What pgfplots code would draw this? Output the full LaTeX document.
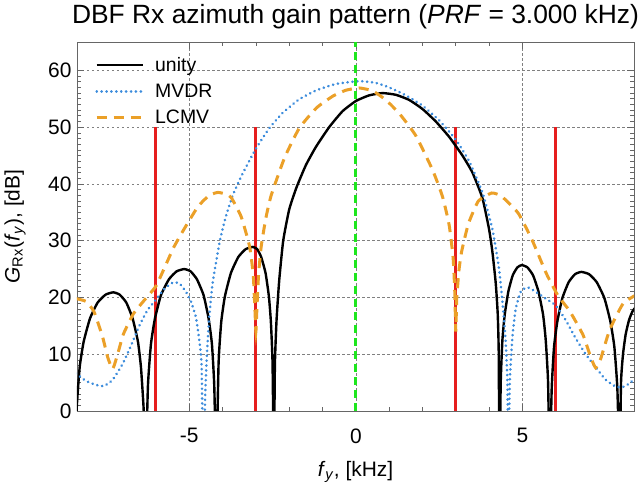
\documentclass[border=0pt]{standalone}
\usepackage{pgfplots}
\pgfplotsset{compat=1.18}
\usepackage{fontspec}
\setmainfont{Liberation Sans}
\definecolor{mvdr}{RGB}{60,140,220}
\definecolor{lcmv}{RGB}{235,160,40}
\definecolor{redl}{RGB}{230,30,30}
\definecolor{greenl}{RGB}{30,230,30}
\begin{document}
\begin{tikzpicture}
\begin{axis}[
  scale only axis, width=557bp, height=369bp,
  xmin=-8.37, xmax=8.35, ymin=0, ymax=65,
  xtick={-5,0,5}, ytick={0,10,...,60},
  minor x tick num=4, minor y tick num=9,
  tick align=inside, major tick length=7bp, minor tick length=4bp,
  xmajorgrids, ymajorgrids,
  grid style={gray, line width=0.6bp, dash pattern=on 2.5bp off 2.5bp},
  axis line style={gray!80!black, line width=0.8bp},
  tick style={gray!80!black, line width=0.6bp},
  ticklabel style={font=\fontsize{21}{25}\selectfont},
  xticklabel style={yshift=-14bp},
  yticklabel style={xshift=-2bp},
  /pgf/number format/assume math mode=true,
  xlabel={\textit{f}\textsubscript{\textit{y}}, [kHz]},
  ylabel={\textit{G}\textsubscript{Rx}(\textit{f}\textsubscript{\textit{y}}), [dB]},
  label style={font=\fontsize{21}{25}\selectfont},
  xlabel style={at={(axis description cs:0.5,0)}, anchor=center, yshift=-61bp},
  ylabel style={at={(axis description cs:0,0.5)}, anchor=center, yshift=62bp},
  title={DBF Rx azimuth gain pattern (\textit{PRF} = 3.000 kHz)},
  title style={font=\fontsize{26.5}{31}\selectfont, at={(axis description cs:0.5,1)}, anchor=center, yshift=19bp},
  legend style={at={(rel axis cs:0,1)}, anchor=north west, xshift=16bp, yshift=-11bp, draw=none, fill=none,
    font=\fontsize{19.5}{23}\selectfont, row sep=7bp, column sep=9bp, inner sep=2bp},
  legend cell align=left,
  legend image code/.code={\draw[#1] (0bp,0bp) -- (46bp,0bp);},
  clip=true,
]
\addplot[redl, line width=3bp, forget plot] coordinates {(-6,0) (-6,50)};
\addplot[redl, line width=3bp, forget plot] coordinates {(-3,0) (-3,50)};
\addplot[redl, line width=3bp, forget plot] coordinates {(3,0) (3,50)};
\addplot[redl, line width=3bp, forget plot] coordinates {(6,0) (6,50)};
\addplot[black, line width=2.4bp, smooth, tension=0.3] coordinates {
(-8.45,-10) (-8.38,0.4) (-8.29,7.7) (-8.17,12.2) (-7.98,16.3) (-7.75,19.1) (-7.51,20.5) (-7.28,20.9) (-7.09,20.5) (-6.89,19.1) (-6.70,16.3) (-6.54,12.2) (-6.45,7.7) (-6.37,0.4) (-6.31,-10)
(-6.24,4.5) (-6.15,11.8) (-6.03,16.3) (-5.85,20.4) (-5.61,23.2) (-5.38,24.6) (-5.15,25.0) (-4.96,24.6) (-4.77,23.2) (-4.57,20.4) (-4.42,16.3) (-4.32,11.8) (-4.25,4.5) (-4.19,-10)
(-4.12,8.4) (-4.04,15.7) (-3.93,20.2) (-3.75,24.3) (-3.53,27.1) (-3.31,28.5) (-3.09,28.9) (-2.96,28.5) (-2.84,27.1) (-2.71,24.3) (-2.61,20.2) (-2.55,15.7) (-2.50,8.4) (-2.46,-10)
(-2.43,8) (-2.38,16) (-2.30,23) (-2.18,30) (-2.0,35.5) (-1.78,39.4) (-1.5,43.3) (-1.2,46.5) (-0.8,50) (-0.4,52.8) (0,54.6) (0.4,55.6) (0.8,56.0) (1.2,55.7) (1.6,54.8) (2.0,53.2) (2.4,51) (2.8,48.3) (3.2,45) (3.5,42) (3.8,37.5) (4.0,32) (4.1,28) (4.2,22.5) (4.26,17) (4.29,10) (4.31,-10)
(4.35,5.2) (4.40,12.5) (4.47,17.0) (4.58,21.1) (4.71,23.9) (4.85,25.3) (4.98,25.7) (5.15,25.3) (5.32,23.9) (5.48,21.1) (5.62,17.0) (5.70,12.5) (5.77,5.2) (5.82,-10)
(5.88,4.0) (5.95,11.3) (6.05,15.8) (6.20,19.9) (6.39,22.7) (6.58,24.1) (6.77,24.5) (7.0,24.1) (7.23,22.7) (7.46,19.9) (7.64,15.8) (7.76,11.3) (7.85,4.0) (7.92,-10)
(7.96,5) (8.02,10) (8.1,13.5) (8.2,16) (8.3,17.5) (8.4,18.3)
};
\addlegendentry{unity}
\addplot[mvdr, line width=2.8bp, dash pattern=on 0.1bp off 4.8bp, line cap=round, smooth, tension=0.3] coordinates {
(-8.4,6.6) (-8.1,5.3) (-7.8,4.6) (-7.56,4.4) (-7.3,5.5) (-7.0,8.3) (-6.75,11.5) (-6.5,15) (-6.25,17.8) (-6.0,19.6) (-5.75,21.5) (-5.5,22.6) (-5.3,22.5) (-5.1,21.0) (-4.95,19.3) (-4.8,16.5) (-4.7,12.5) (-4.63,8) (-4.58,-10)
(-4.52,3) (-4.47,10) (-4.4,16.5) (-4.3,22.5) (-4.08,30) (-3.9,34.3) (-3.68,38.2) (-3.4,41.8) (-3.0,46.2) (-2.6,49.8) (-2.18,52.6) (-1.7,54.9) (-1.18,56.5) (-0.6,57.6) (0.1,58.1) (0.6,57.8) (1.0,57.0) (1.5,55.6) (2.0,53.8) (2.5,51.2) (3.0,47.8) (3.4,44) (3.8,38.5) (4.1,32) (4.3,25) (4.42,18) (4.5,12) (4.55,5) (4.58,-10)
(4.62,5) (4.70,13) (4.80,18) (4.95,21) (5.15,21.8) (5.4,21) (5.7,19.8) (6.0,18.6) (6.3,16) (6.6,12.8) (6.9,10) (7.2,7.7) (7.5,5.5) (7.8,4.3) (8.0,4.2) (8.2,4.8) (8.4,5.8)
};
\addlegendentry{MVDR}
\addplot[lcmv, line width=3bp, dash pattern=on 10bp off 7bp, smooth, tension=0.3] coordinates {
(-8.4,19.8) (-8.1,19.3) (-7.86,17.5) (-7.6,13) (-7.45,9.5) (-7.3,7.4) (-7.15,10) (-6.98,13.5) (-6.68,17.1) (-6.38,19.3) (-6.0,22) (-5.7,25.8) (-5.46,28.9) (-5.16,32) (-4.74,36) (-4.4,38) (-4.14,38.5) (-3.9,38.2) (-3.74,37.6) (-3.44,34.2) (-3.19,29) (-3.08,24) (-3.03,18) (-3.0,14) (-2.97,18) (-2.92,24) (-2.84,29) (-2.7,34) (-2.54,38) (-2.14,44.6) (-1.7,49.8) (-1.18,53.4) (-0.68,55.5) (-0.3,56.5) (0.1,56.9) (0.5,56.4) (0.9,54.8) (1.32,52.3) (1.8,48.5) (2.3,42.5) (2.6,37.8) (2.8,32.8) (2.92,27) (2.97,21) (3.0,14) (3.03,20) (3.1,25) (3.18,28.2) (3.38,33) (3.68,37) (4.08,38.4) (4.38,37.8) (4.88,34.8) (5.3,30) (5.72,24.2) (6.07,20.3) (6.42,17.6) (6.82,13.4) (7.05,9.5) (7.2,7.6) (7.35,9.2) (7.62,14.3) (8.02,18.9) (8.4,20.4)
};
\addlegendentry{LCMV}
\addplot[greenl, line width=3bp, dash pattern=on 8bp off 5bp, forget plot] coordinates {(0,0) (0,65)};
\end{axis}
\pgfresetboundingbox
\useasboundingbox ([shift={(-77bp,-78bp)}]current axis.south west) rectangle ([shift={(4bp,42bp)}]current axis.north east);
\end{tikzpicture}
\end{document}
